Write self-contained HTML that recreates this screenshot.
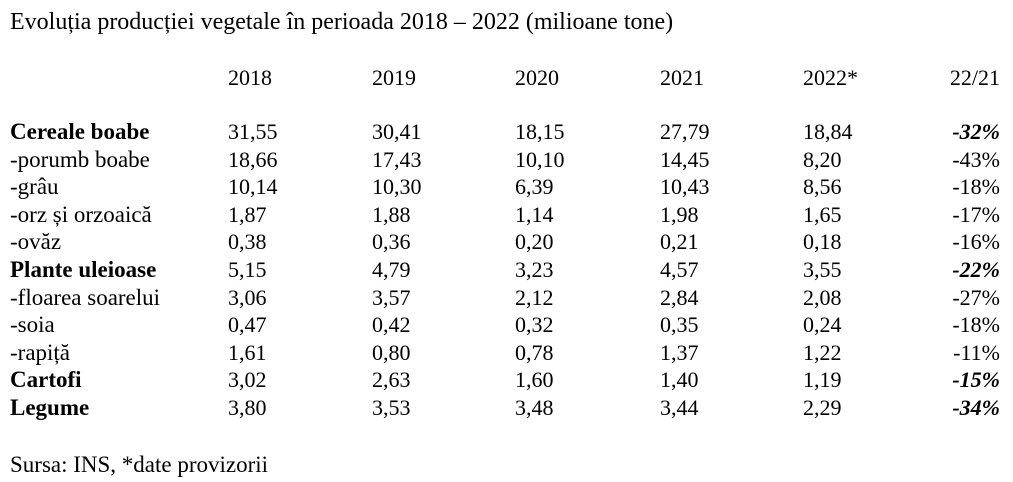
<!DOCTYPE html>
<html><head><meta charset="utf-8"><style>
body{margin:0;width:1013px;height:482px;background:#fff;font-family:"Liberation Serif",serif;font-size:22px;color:#000;position:relative;overflow:hidden}
.t{position:absolute;line-height:26px;white-space:nowrap}
.b{font-weight:bold}
.lab{font-size:23px}
.p{text-align:right;width:100px;left:900px}
.bi{font-weight:bold;font-style:italic}
</style></head><body>
<div class="t" style="left:10px;top:9px;font-size:24px">Evoluția producției vegetale în perioada 2018 – 2022 (milioane tone)</div>
<div id="tbl"></div>
<div class="t" style="left:10px;top:452px;font-size:23px">Sursa: INS, *date provizorii</div>
<script>
const headers=["2018","2019","2020","2021","2022*","22/21"];
const labels=["Cereale boabe","-porumb boabe","-grâu","-orz și orzoaică","-ovăz","Plante uleioase","-floarea soarelui","-soia","-rapiță","Cartofi","Legume"];
const bold=[1,0,0,0,0,1,0,0,0,1,1];
const v2018=["31,55","18,66","10,14","1,87","0,38","5,15","3,06","0,47","1,61","3,02","3,80"];
const v2019=["30,41","17,43","10,30","1,88","0,36","4,79","3,57","0,42","0,80","2,63","3,53"];
const v2020=["18,15","10,10","6,39","1,14","0,20","3,23","2,12","0,32","0,78","1,60","3,48"];
const v2021=["27,79","14,45","10,43","1,98","0,21","4,57","2,84","0,35","1,37","1,40","3,44"];
const v2022=["18,84","8,20","8,56","1,65","0,18","3,55","2,08","0,24","1,22","1,19","2,29"];
const pct=["-32%","-43%","-18%","-17%","-16%","-22%","-27%","-18%","-11%","-15%","-34%"];
const colX=[228,372,515,660,803];
const cont=document.getElementById('tbl');
function add(txt,cls,x,y,name){const d=document.createElement('div');d.className='t '+cls;d.textContent=txt;d.style.top=(y-13)+'px';if(x!==null)d.style.left=x+'px';


cont.appendChild(d);}
headers.forEach((h,i)=>{if(i<5)add(h,'',colX[i],78,'header-'+h.replace('*','').replace('/','-'));else add(h,'p',null,78,'header-change');});
const cols=[v2018,v2019,v2020,v2021,v2022];
labels.forEach((l,r)=>{const y=132+r*27.6;
add(l,'lab'+(bold[r]?' b':''),10,y,'row-label');
cols.forEach((c,i)=>add(c[r],'',colX[i],y,'cell-'+headers[i].replace('*','')));
add(pct[r],'p'+(bold[r]?' bi':''),null,y,'cell-change');});
</script>
</body></html>
